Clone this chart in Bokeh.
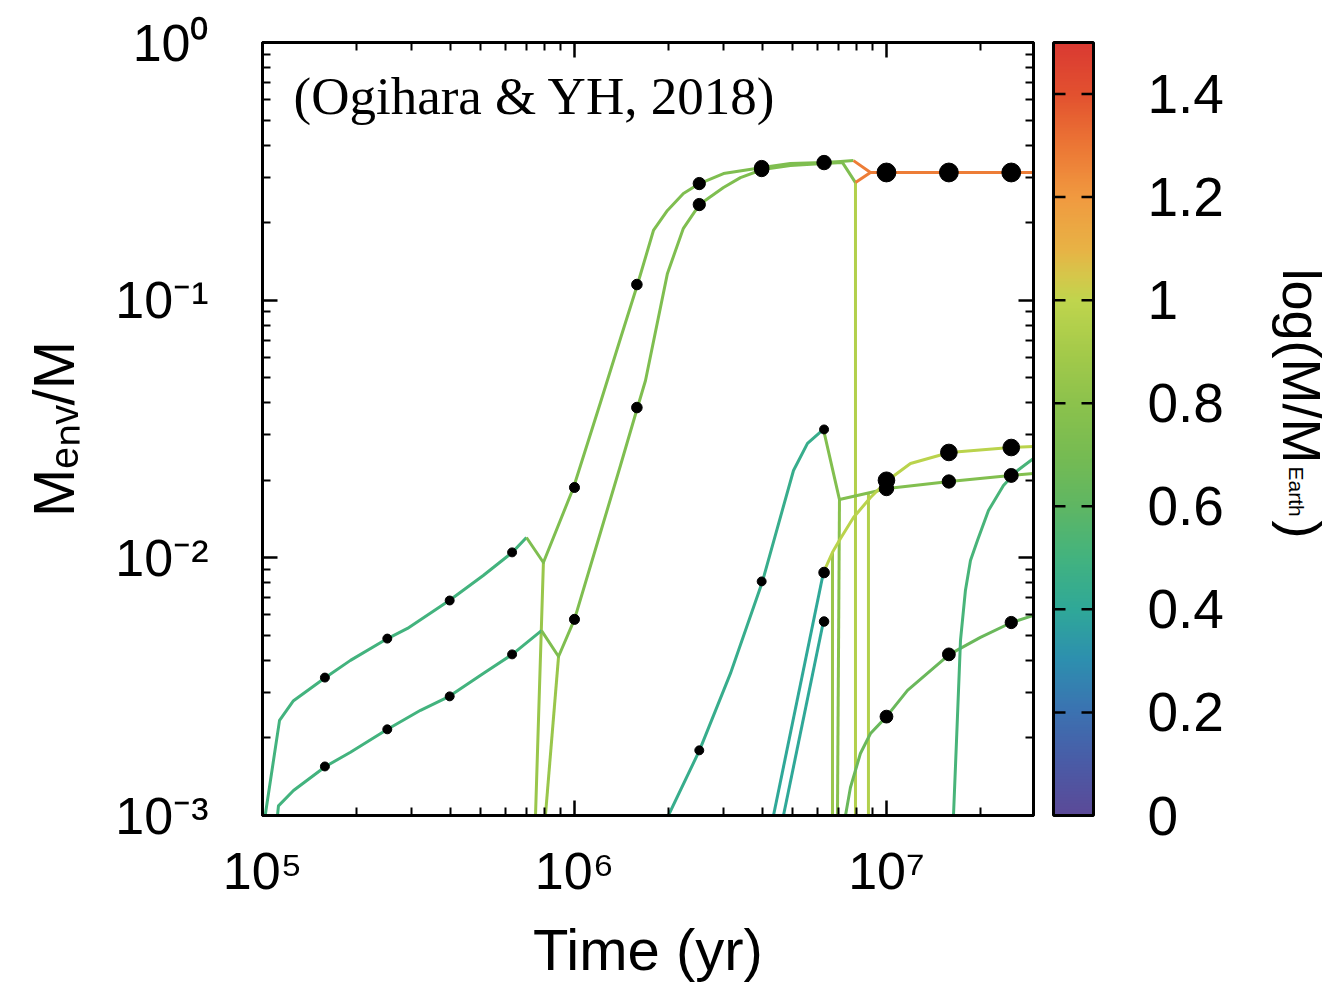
import numpy as np
from bokeh.plotting import figure
from bokeh.layouts import row
from bokeh.models import (Range1d, LogAxis, FixedTicker, CustomJSTickFormatter,
                          LinearColorMapper, ColumnDataSource, Label)
from bokeh.transform import linear_cmap
from bokeh.core.properties import value
from bokeh.embed import file_html
from bokeh.resources import INLINE

# ---------------- data (time in yr, Menv/M, log(M/MEarth)) ----------------
a_t = [1.02e5, 1.134e5, 1.257e5, 1.592e5, 1.914e5, 2.516e5, 2.915e5, 3.97e5, 5.1e5, 6.32e5, 7.015e5]
a_y = [0.00100, 0.00234, 0.00279, 0.00343, 0.00400, 0.00486, 0.00532, 0.00683, 0.00854, 0.0105, 0.01199]

b_t = [1.117e5, 1.125e5, 1.257e5, 1.592e5, 1.914e5, 2.516e5, 3.21e5, 3.97e5, 5.1e5, 6.32e5, 7.84e5]
b_y = [0.00100, 0.00109, 0.00125, 0.00155, 0.00176, 0.00216, 0.00256, 0.00290, 0.00356, 0.00422, 0.00522]

c1_t = [7.015e5, 7.95e5, 9.93e5, 1.2115e6, 1.404e6, 1.592e6, 1.791e6, 1.986e6, 2.234e6, 2.516e6,
        3.004e6, 4.005e6, 4.92e6, 6.28e6, 7.123e6, 7.84e6]
c1_y = [0.01199, 0.00959, 0.01875, 0.0401, 0.0710, 0.115, 0.1864, 0.223, 0.2595, 0.2835,
        0.310, 0.327, 0.339, 0.342, 0.345, 0.348]

c2_t = [7.84e5, 8.89e5, 1.0e6, 1.2115e6, 1.404e6, 1.592e6, 1.689e6, 1.986e6, 2.234e6, 2.516e6,
        3.004e6, 3.404e6, 4.005e6, 4.92e6, 6.28e6, 7.23e6, 7.956e6]
c2_y = [0.00522, 0.00414, 0.00577, 0.01254, 0.02282, 0.03833, 0.0488, 0.127, 0.190, 0.235,
        0.2736, 0.299, 0.3215, 0.333, 0.339, 0.342, 0.286]

drop1_t = [7.95e5, 7.5e5]
drop1_y = [0.00959, 0.001]
drop2_t = [8.89e5, 8.07e5]
drop2_y = [0.00414, 0.001]
drop3_t = [7.956e6, 7.956e6]
drop3_y = [0.286, 0.001]

giant_t = [7.84e6, 8.888e6, 1.0e7, 1.592e7, 2.516e7, 2.96e7]
giant_y = [0.348, 0.313, 0.313, 0.313, 0.313, 0.313]
giant2_t = [7.956e6, 8.888e6]
giant2_y = [0.286, 0.313]

ct_t = [2.0e6, 2.516e6, 3.162e6, 4.005e6, 4.474e6, 5.035e6, 5.583e6, 6.28e6]
ct_y = [0.001, 0.00179, 0.00356, 0.0081, 0.01311, 0.02183, 0.0278, 0.0315]

e_t = [6.28e6, 7.07e6, 8.888e6, 1.0074e7, 1.592e7, 2.497e7, 2.96e7]
e_y = [0.0315, 0.01683, 0.01793, 0.01858, 0.01978, 0.02088, 0.02125]
edrop_t = [7.07e6, 6.965e6]
edrop_y = [0.01683, 0.001]

t1_t = [4.344e6, 6.28e6]
t1_y = [0.001, 0.00877]
t2_t = [4.676e6, 6.28e6]
t2_y = [0.001, 0.00566]

d_t = [6.28e6, 6.714e6, 7.123e6, 7.84e6, 8.888e6, 1.0074e7, 1.194e7, 1.592e7, 2.497e7, 2.96e7]
d_y = [0.00877, 0.0105, 0.01189, 0.01434, 0.01715, 0.01996, 0.02323, 0.02564, 0.0268, 0.02705]
ddrop_t = [6.714e6, 6.714e6]
ddrop_y = [0.0105, 0.001]
v868_t = [8.755e6, 8.755e6]
v868_y = [0.0179, 0.001]

f_t = [7.39e6, 7.665e6, 8.25e6, 8.888e6, 1.0e7, 1.168e7, 1.592e7, 2.001e7, 2.516e7, 2.96e7]
f_y = [0.001, 0.001284, 0.00174, 0.00208, 0.00242, 0.00306, 0.00422, 0.00491, 0.00561, 0.00598]

g_t = [1.64e7, 1.677e7, 1.727e7, 1.791e7, 1.859e7, 1.957e7, 2.123e7, 2.371e7, 2.63e7, 2.96e7]
g_y = [0.001, 0.001954, 0.00478, 0.00747, 0.00977, 0.01167, 0.01527, 0.0191, 0.02183, 0.0243]

# (times, values, log mass) in drawing order
tracks = [
    (drop1_t, drop1_y, 0.85), (drop2_t, drop2_y, 0.85), (drop3_t, drop3_y, 0.95),
    (edrop_t, edrop_y, 0.78), (ddrop_t, ddrop_y, 0.85), (v868_t, v868_y, 0.95),
    (a_t, a_y, 0.50), (b_t, b_y, 0.50),
    (c1_t, c1_y, 0.74), (c2_t, c2_y, 0.74),
    (ct_t, ct_y, 0.45), (t1_t, t1_y, 0.40), (t2_t, t2_y, 0.40),
    (f_t, f_y, 0.65), (g_t, g_y, 0.52), (e_t, e_y, 0.75), (d_t, d_y, 0.98),
    (giant2_t, giant2_y, 1.28), (giant_t, giant_y, 1.28),
]

dot_t = [1.585e5, 2.512e5, 3.981e5, 6.310e5,
         1.585e5, 2.512e5, 3.981e5, 6.310e5,
         1e6, 1.585e6, 2.512e6, 3.981e6, 6.310e6,
         1e6, 1.585e6, 2.512e6, 3.981e6,
         1e7, 1.585e7, 2.512e7,
         2.512e6, 3.981e6, 6.310e6,
         6.310e6, 6.310e6,
         1e7, 1.585e7, 2.512e7,
         1e7, 1.585e7, 2.512e7,
         1e7, 1.585e7, 2.512e7]
dot_y = [0.00343, 0.00486, 0.00683, 0.0105,
         0.00155, 0.00216, 0.0029, 0.00422,
         0.01875, 0.115, 0.2835, 0.327, 0.342,
         0.00577, 0.0383, 0.235, 0.3215,
         0.313, 0.313, 0.313,
         0.00179, 0.0081, 0.0315,
         0.00877, 0.00566,
         0.0200, 0.02564, 0.0268,
         0.01858, 0.01978, 0.02088,
         0.00242, 0.00422, 0.00561]
dot_logm = [0.45, 0.45, 0.45, 0.45,
            0.45, 0.45, 0.45, 0.45,
            0.55, 0.6, 0.75, 0.95, 0.95,
            0.55, 0.6, 0.75, 0.95,
            1.35, 1.35, 1.35,
            0.45, 0.45, 0.45,
            0.6, 0.5,
            1.15, 1.15, 1.15,
            0.95, 0.85, 0.9,
            0.8, 0.8, 0.75]

x_ticks = [1e5, 1e6, 1e7]
x_labels = ["10\u2075", "10\u2076", "10\u2077"]
y_ticks = [1e-3, 1e-2, 1e-1, 1.0]
y_labels = ["10\u207b\u00b3", "10\u207b\u00b2", "10\u207b\u00b9", "10\u2070"]
cb_ticks = [0.0, 0.2, 0.4, 0.6, 0.8, 1.0, 1.2, 1.4]
cb_labels = ["0", "0.2", "0.4", "0.6", "0.8", "1", "1.2", "1.4"]

# ---------------- palette ----------------
anchors = [(0.00, "#5b4a98"), (0.10, "#4a5ba6"), (0.20, "#3b72b1"), (0.30, "#2d8faf"),
           (0.40, "#2fa898"), (0.50, "#43b37e"), (0.60, "#5fb663"), (0.70, "#76bb52"),
           (0.80, "#8cc24c"), (0.90, "#a4ca4a"), (1.00, "#bfd54d"), (1.05, "#d6c64a"),
           (1.10, "#e8b245"), (1.20, "#f09a40"), (1.30, "#ec7735"), (1.40, "#e2512f"),
           (1.50, "#da3a32")]
av = [a[0] for a in anchors]
arg = np.array([[int(h[i:i + 2], 16) for i in (1, 3, 5)] for _, h in anchors], float)
palette = []
for v in np.linspace(0, 1.5, 256):
    r, g, b = (int(round(np.interp(v, av, arg[:, k]))) for k in range(3))
    palette.append("#%02x%02x%02x" % (r, g, b))
mapper = LinearColorMapper(palette=palette, low=0, high=1.5)

FONT = "Liberation Sans"
FIG_H = 987

# ---------------- main figure ----------------
p = figure(width=1043, height=FIG_H, x_axis_type="log", y_axis_type="log",
           x_range=Range1d(1e5, 2.96e7), y_range=Range1d(1e-3, 1.0),
           output_backend="svg", toolbar_location=None,
           min_border_left=262, min_border_right=10, min_border_top=42,
           min_border_bottom=FIG_H - 815)
p.frame_align = False
p.grid.visible = False
p.outline_line_color = "black"
p.outline_line_width = 3
p.background_fill_color = "white"
p.border_fill_color = "white"

x_minor = [m * 10.0 ** e for e in (5, 6, 7) for m in range(2, 10) if m * 10.0 ** e <= 2.96e7]
y_minor = [m * 10.0 ** e for e in (-3, -2, -1) for m in range(2, 10)]

lab_code = """
for (let i = 0; i < vals.length; i++) {
  if (Math.abs(Math.log10(tick / vals[i])) < 1e-6) return labels[i];
}
return '';
"""


def style_axis(ax):
    ax.axis_line_width = 3
    ax.axis_line_color = "black"
    ax.major_tick_in = 15
    ax.major_tick_out = 0
    ax.minor_tick_in = 8
    ax.minor_tick_out = 0
    ax.major_tick_line_width = 2.5
    ax.minor_tick_line_width = 2
    ax.major_tick_line_color = "black"
    ax.minor_tick_line_color = "black"


xa = p.xaxis[0]
xa.ticker = FixedTicker(ticks=x_ticks, minor_ticks=x_minor)
xa.formatter = CustomJSTickFormatter(args=dict(vals=x_ticks, labels=x_labels), code=lab_code)
style_axis(xa)
xa.major_label_text_font = FONT
xa.major_label_text_font_size = "52px"
xa.major_label_text_color = "black"
xa.major_label_standoff = 26
xa.axis_label = "Time (yr)"
xa.axis_label_text_font = FONT
xa.axis_label_text_font_size = "58px"
xa.axis_label_text_font_style = "normal"
xa.axis_label_text_color = "black"
xa.axis_label_standoff = 14

ya = p.yaxis[0]
ya.ticker = FixedTicker(ticks=y_ticks, minor_ticks=y_minor)
ya.formatter = CustomJSTickFormatter(args=dict(vals=y_ticks, labels=y_labels), code=lab_code)
style_axis(ya)
ya.major_label_text_font = FONT
ya.major_label_text_font_size = "52px"
ya.major_label_text_color = "black"
ya.major_label_standoff = 54
ya.axis_label = "M\u2091\u2099\u1d65/M"
ya.axis_label_text_font = FONT
ya.axis_label_text_font_size = "58px"
ya.axis_label_text_font_style = "normal"
ya.axis_label_text_color = "black"
ya.axis_label_standoff = 26

empty = CustomJSTickFormatter(code="return '';")
top = LogAxis(ticker=FixedTicker(ticks=x_ticks, minor_ticks=x_minor), formatter=empty)
style_axis(top)
top.major_label_standoff = 0
top.major_label_text_font_size = "1px"
p.add_layout(top, "above")
right = LogAxis(ticker=FixedTicker(ticks=y_ticks, minor_ticks=y_minor), formatter=empty)
style_axis(right)
right.major_label_standoff = 0
right.major_label_text_font_size = "1px"
p.add_layout(right, "right")

src = ColumnDataSource(dict(xs=[list(t) for t, _, _ in tracks],
                            ys=[list(y) for _, y, _ in tracks],
                            logm=[m for _, _, m in tracks]))
p.multi_line("xs", "ys", source=src, line_width=3, line_join="round",
             line_color=linear_cmap("logm", palette, 0, 1.5))

dsrc = ColumnDataSource(dict(t=dot_t, y=dot_y, size=[4 + 11 * m for m in dot_logm]))
p.scatter("t", "y", size="size", source=dsrc, fill_color="black", line_color="black")

p.add_layout(Label(x=31, y=720, x_units="screen", y_units="screen",
                   text="(Ogihara & YH, 2018)", text_font="Liberation Serif",
                   text_font_size="53px", text_color="black", text_baseline="alphabetic"))

# ---------------- colour bar figure ----------------
def v_of(px):
    return (815 - px) * 1.5 / 773.0

cb = figure(width=292, height=FIG_H, x_range=Range1d(-10, 282),
            y_range=Range1d(v_of(FIG_H), v_of(0)),
            output_backend="svg", toolbar_location=None,
            x_axis_location=None, y_axis_location=None,
            min_border_left=0, min_border_right=0, min_border_top=0, min_border_bottom=0)
cb.frame_align = False
cb.grid.visible = False
cb.outline_line_color = None
cb.background_fill_color = "white"
cb.border_fill_color = "white"

grad = np.linspace(0, 1.5, 256).reshape(256, 1)
cb.image(image=[grad], x=0, y=0, dw=40, dh=1.5, color_mapper=mapper)
cb.quad(left=[0], right=[40], bottom=[0], top=[1.5], fill_color=None,
        line_color="black", line_width=3)
inner = [t for t in cb_ticks if 0 < t < 1.5]
cb.segment(x0=[0] * len(inner), x1=[12] * len(inner), y0=inner, y1=inner,
           line_color="black", line_width=2.5)
cb.segment(x0=[28] * len(inner), x1=[40] * len(inner), y0=inner, y1=inner,
           line_color="black", line_width=2.5)
cb.text(x=[94] * len(cb_ticks), y=cb_ticks, text=cb_labels, text_font=value(FONT),
        text_font_size="55px", text_align="left", text_baseline="middle", text_color="black")

cb.text(x=[248], y=[v_of(268)], text=["log(M/M"], angle=-np.pi / 2, text_font=value(FONT),
        text_font_size="54px", text_align="left", text_baseline="middle", text_color="black")
cb.text(x=[243], y=[v_of(466)], text=["Earth"], angle=-np.pi / 2, text_font=value(FONT),
        text_font_size="21px", text_align="left", text_baseline="middle", text_color="black")
cb.text(x=[248], y=[v_of(520)], text=[")"], angle=-np.pi / 2, text_font=value(FONT),
        text_font_size="54px", text_align="left", text_baseline="middle", text_color="black")

layout = row(p, cb)
open("out.html", "w").write(file_html(layout, INLINE))
